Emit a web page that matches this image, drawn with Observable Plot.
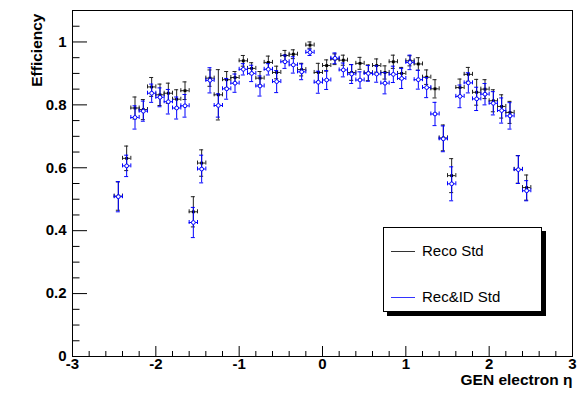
<!DOCTYPE html>
<html>
<head>
<meta charset="utf-8">
<script src="https://cdn.jsdelivr.net/npm/d3@7"></script>
<script src="https://cdn.jsdelivr.net/npm/@observablehq/plot@0.6"></script>
<style>
  html, body { margin: 0; padding: 0; background: #fff; }
  #wrap { position: relative; width: 581px; height: 393px; font-family: "Liberation Sans", Arial, Helvetica, sans-serif; }
  #legend { position: absolute; left: 383px; top: 227px; width: 157px; height: 83px; border: 1px solid #000; background: #fff; box-shadow: 4px 4px 0 #000; }
  .entry { position: absolute; left: 0; width: 157px; height: 20px; font-size: 15px; color: #000; }
  .entry .ln { position: absolute; left: 7px; top: 10px; width: 24px; height: 1px; }
  .entry .tx { position: absolute; left: 38px; top: 1px; line-height: 18px; white-space: nowrap; }
</style>
</head>
<body>
<div id="wrap"></div>
<script>
// ---- data ----
const etaBins = [-2.45,-2.35,-2.25,-2.15,-2.05,-1.95,-1.85,-1.75,-1.65,-1.55,-1.45,-1.35,-1.25,-1.15,-1.05,-0.95,-0.85,-0.75,-0.65,-0.55,-0.45,-0.35,-0.25,-0.15,-0.05,
                 0.05,0.15,0.25,0.35,0.45,0.55,0.65,0.75,0.85,0.95,1.05,1.15,1.25,1.35,1.45,1.55,1.65,1.75,1.85,1.95,2.05,2.15,2.25,2.35,2.45];
const binHalfWidth = 0.05;

const recoStd = [0.51,0.63,0.79,0.785,0.857,0.832,0.837,0.818,0.845,0.46,0.615,0.885,0.832,0.88,0.887,0.94,0.916,0.885,0.935,0.903,0.957,0.961,0.912,0.99,0.903,
                 0.925,0.945,0.942,0.903,0.932,0.902,0.925,0.903,0.937,0.9,0.94,0.93,0.888,0.851,0.695,0.575,0.855,0.897,0.84,0.85,0.813,0.795,0.776,0.595,0.537];
const recoStdErr = [0.045,0.039,0.035,0.032,0.03,0.034,0.032,0.03,0.028,0.048,0.042,0.026,0.08,0.026,0.019,0.017,0.018,0.021,0.02,0.02,0.016,0.014,0.02,0.01,0.029,
                    0.018,0.017,0.016,0.025,0.019,0.025,0.021,0.021,0.021,0.019,0.016,0.02,0.023,0.029,0.041,0.054,0.027,0.022,0.041,0.03,0.035,0.037,0.035,0.044,0.04];

const recIdStd = [0.508,0.606,0.76,0.78,0.837,0.824,0.81,0.79,0.797,0.426,0.596,0.878,0.798,0.851,0.869,0.913,0.9,0.86,0.913,0.874,0.937,0.927,0.905,0.967,0.872,
                  0.879,0.948,0.911,0.898,0.879,0.9,0.898,0.869,0.897,0.884,0.935,0.88,0.855,0.771,0.692,0.549,0.827,0.87,0.819,0.834,0.805,0.782,0.765,0.594,0.527];
const recIdStdErr = [0.048,0.034,0.037,0.032,0.029,0.03,0.039,0.035,0.036,0.048,0.044,0.04,0.037,0.033,0.029,0.018,0.026,0.032,0.018,0.035,0.021,0.026,0.025,0.01,0.035,
                     0.03,0.017,0.022,0.03,0.026,0.025,0.026,0.034,0.026,0.032,0.023,0.03,0.032,0.037,0.041,0.054,0.036,0.032,0.037,0.034,0.037,0.04,0.042,0.044,0.032];

const xDomain = [-3, 3];
const yDomain = [0, 1.1];
const xMajorTicks = [-3,-2,-1,0,1,2,3];
const xMinorTicks = [-2.8,-2.6,-2.4,-2.2,-1.8,-1.6,-1.4,-1.2,-0.8,-0.6,-0.4,-0.2,0.2,0.4,0.6,0.8,1.2,1.4,1.6,1.8,2.2,2.4,2.6,2.8];
const yMajorTicks = [0,0.2,0.4,0.6,0.8,1];
const yMinorTicks = [0.05,0.1,0.15,0.25,0.3,0.35,0.45,0.5,0.55,0.65,0.7,0.75,0.85,0.9,0.95,1.05];

const seriesNames = ["Reco Std", "Rec&ID Std"];
const seriesColors = ["#222222", "#0000ff"];

const reco = etaBins.map((eta, i) => ({eta, v: recoStd[i], e: recoStdErr[i]}));
const recid = etaBins.map((eta, i) => ({eta, v: recIdStd[i], e: recIdStdErr[i]}));

function errorMarks(data, color, markerMark) {
  return [
    Plot.ruleX(data, {x: "eta", y1: d => d.v - d.e, y2: d => d.v + d.e, stroke: color}),
    Plot.ruleY(data, {y: "v", x1: d => d.eta - binHalfWidth, x2: d => d.eta + binHalfWidth, stroke: color}),
    Plot.ruleY(data, {y: d => d.v + d.e, x1: "eta", x2: "eta", insetLeft: -2, insetRight: -2, stroke: color}),
    Plot.ruleY(data, {y: d => d.v - d.e, x1: "eta", x2: "eta", insetLeft: -2, insetRight: -2, stroke: color}),
    Plot.ruleX(data, {x: d => d.eta - binHalfWidth, y1: "v", y2: "v", insetTop: -2, insetBottom: -2, stroke: color}),
    Plot.ruleX(data, {x: d => d.eta + binHalfWidth, y1: "v", y2: "v", insetTop: -2, insetBottom: -2, stroke: color}),
    markerMark
  ];
}

const font = "'Liberation Sans', Arial, Helvetica, sans-serif";

const chart = Plot.plot({
  width: 581,
  height: 393,
  marginLeft: 72,
  marginRight: 9,
  marginTop: 10,
  marginBottom: 37,
  style: {fontFamily: font, background: "#fff"},
  x: {domain: xDomain, axis: null},
  y: {domain: yDomain, axis: null},
  marks: [
    Plot.frame({stroke: "#000"}),
    // x ticks (inward)
    Plot.ruleX(xMajorTicks, {x: d => d, y1: () => yDomain[0], y2: () => yDomain[0], insetBottom: 10, stroke: "#000"}),
    Plot.ruleX(xMinorTicks, {x: d => d, y1: () => yDomain[0], y2: () => yDomain[0], insetBottom: 5, stroke: "#000"}),
    // y ticks (inward)
    Plot.ruleY(yMajorTicks, {y: d => d, x1: () => xDomain[0], x2: () => xDomain[0], insetRight: -15, stroke: "#000"}),
    Plot.ruleY(yMinorTicks, {y: d => d, x1: () => xDomain[0], x2: () => xDomain[0], insetRight: -7.5, stroke: "#000"}),
    // tick labels
    Plot.axisX({ticks: xMajorTicks, tickSize: 0, tickPadding: 2, tickFormat: d => String(d), fontSize: 15, fontWeight: "bold", label: null}),
    Plot.axisY({ticks: yMajorTicks, tickSize: 0, tickPadding: 6, tickFormat: d => String(d), fontSize: 15, fontWeight: "bold", label: null}),
    // axis titles
    Plot.text(["GEN electron η"], {frameAnchor: "bottom-right", text: d => d, textAnchor: "end", dy: 28, fontSize: 15.5, fontWeight: "bold"}),
    Plot.text(["Efficiency"], {frameAnchor: "top-left", text: d => d, rotate: -90, textAnchor: "end", dx: -42, dy: 3, fontSize: 15.5, fontWeight: "bold"}),
    // series
    ...errorMarks(reco, seriesColors[0], Plot.dot(reco, {x: "eta", y: "v", r: 1.6, symbol: "square", fill: "#000"})),
    ...errorMarks(recid, seriesColors[1], Plot.dot(recid, {x: "eta", y: "v", r: 1.9, stroke: seriesColors[1], fill: "#fff", strokeWidth: 1}))
  ]
});

const wrap = document.getElementById("wrap");
wrap.appendChild(chart);

const legend = document.createElement("div");
legend.id = "legend";
seriesNames.forEach((name, i) => {
  const e = document.createElement("div");
  e.className = "entry";
  e.style.top = (i === 0 ? 13 : 59) + "px";
  const ln = document.createElement("div");
  ln.className = "ln";
  ln.style.background = i === 0 ? "#333333" : "#3333ff";
  const tx = document.createElement("div");
  tx.className = "tx";
  tx.textContent = name;
  e.appendChild(ln);
  e.appendChild(tx);
  legend.appendChild(e);
});
wrap.appendChild(legend);
</script>
</body>
</html>
